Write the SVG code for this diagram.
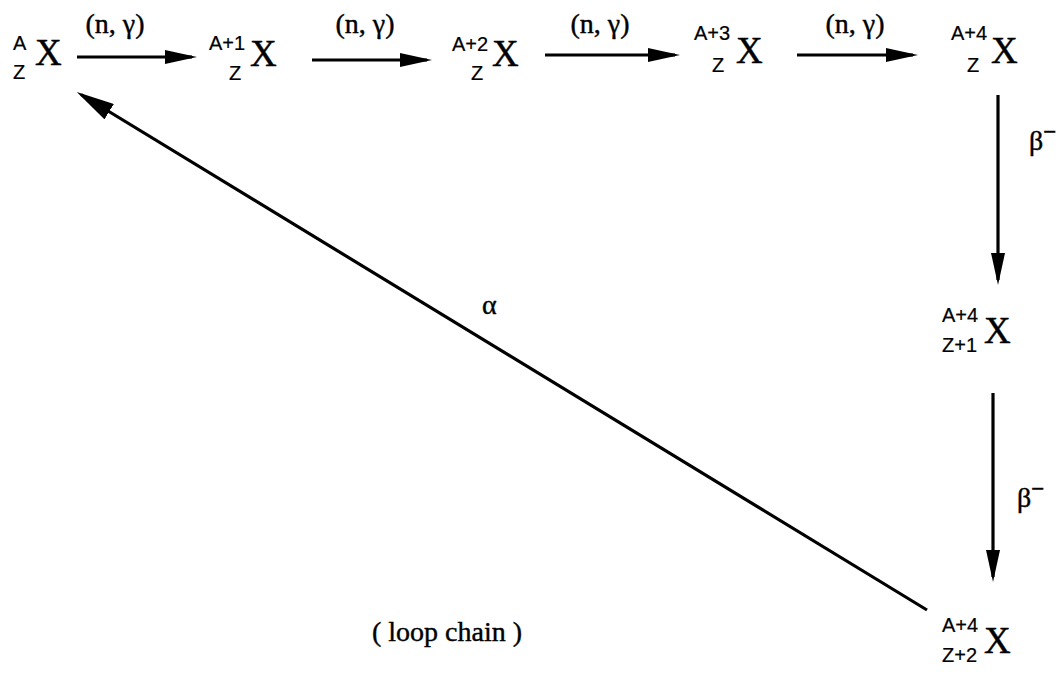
<svg xmlns="http://www.w3.org/2000/svg" width="1064" height="674" viewBox="0 0 1064 674">
<defs>
<style>
.bg{fill:#fff}
.big{font-family:"Liberation Serif","Times New Roman",serif;font-size:37px;fill:#000;stroke:#000;stroke-width:0.4}
.sm{font-family:"Liberation Sans",Arial,sans-serif;font-size:20px;fill:#000;stroke:#000;stroke-width:0.2}
.lbl{font-family:"Liberation Serif","Times New Roman",serif;font-size:28px;fill:#000;stroke:#000;stroke-width:0.4}
.sup{font-family:"Liberation Sans",Arial,sans-serif;font-size:22px;fill:#000}
.ln{stroke:#000;stroke-width:3.2;fill:none}
</style>
<marker id="ah" viewBox="0 0 32 14" markerWidth="32" markerHeight="14" refX="27" refY="7" orient="auto" markerUnits="userSpaceOnUse">
<path d="M0,0 L32,7 L0,14 z" fill="#000"/>
</marker>
<marker id="ahd" viewBox="0 0 38 18" markerWidth="38" markerHeight="18" refX="33" refY="9" orient="auto" markerUnits="userSpaceOnUse">
<path d="M0,0 L38,9 L0,18 z" fill="#000"/>
</marker>
</defs>
<rect class="bg" x="0" y="0" width="1064" height="674"/>
<g id="connectors">
<line class="ln" x1="77" y1="57" x2="192" y2="57" marker-end="url(#ah)"/>
<line class="ln" x1="312" y1="60" x2="427" y2="60" marker-end="url(#ah)"/>
<line class="ln" x1="545" y1="55" x2="675" y2="55" marker-end="url(#ah)"/>
<line class="ln" x1="797" y1="55" x2="913" y2="55" marker-end="url(#ah)"/>
<line class="ln" x1="998" y1="95" x2="998" y2="280" marker-end="url(#ah)"/>
<line class="ln" x1="993" y1="393" x2="993" y2="577" marker-end="url(#ah)"/>
<line class="ln" x1="927" y1="610" x2="81" y2="94.5" marker-end="url(#ahd)"/>
<text class="lbl" x="115" y="33" text-anchor="middle">(n, γ)</text>
<text class="lbl" x="365" y="33" text-anchor="middle">(n, γ)</text>
<text class="lbl" x="600" y="33" text-anchor="middle">(n, γ)</text>
<text class="lbl" x="855" y="33" text-anchor="middle">(n, γ)</text>
<text class="lbl" x="1029" y="150">β<tspan class="sup" dy="-11">−</tspan></text>
<text class="lbl" x="1017" y="507">β<tspan class="sup" dy="-11">−</tspan></text>
<text class="lbl" x="482" y="314">α</text>
</g>
<g id="n1"><text class="sm" x="13" y="50">A</text><text class="sm" x="13" y="79">Z</text><text class="big" x="35" y="65">X</text></g>
<g id="n2"><text class="sm" x="209" y="50">A+1</text><text class="sm" x="229" y="80">Z</text><text class="big" x="250" y="66">X</text></g>
<g id="n3"><text class="sm" x="452" y="51">A+2</text><text class="sm" x="471" y="80">Z</text><text class="big" x="492" y="66">X</text></g>
<g id="n4"><text class="sm" x="694" y="40">A+3</text><text class="sm" x="712" y="72">Z</text><text class="big" x="736" y="63">X</text></g>
<g id="n5"><text class="sm" x="951" y="40">A+4</text><text class="sm" x="967" y="72">Z</text><text class="big" x="991" y="63">X</text></g>
<g id="n6"><text class="sm" x="942" y="322">A+4</text><text class="sm" x="942" y="352">Z+1</text><text class="big" x="984" y="343">X</text></g>
<g id="n7"><text class="sm" x="942" y="632">A+4</text><text class="sm" x="942" y="662">Z+2</text><text class="big" x="984" y="653">X</text></g>
<g id="caption"><text class="lbl" x="372" y="641">( loop chain )</text></g>
</svg>
